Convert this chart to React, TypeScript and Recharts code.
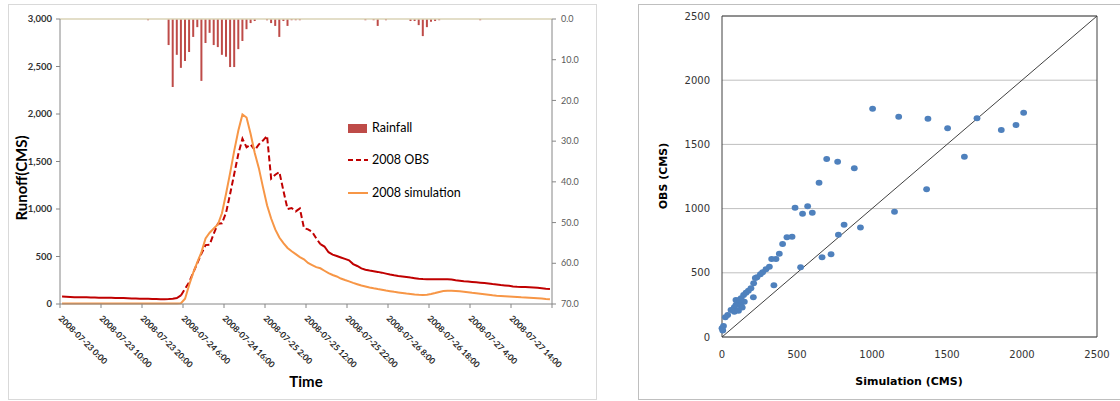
import React from 'react';
import {
  ComposedChart, Line, Bar, XAxis, YAxis, ReferenceLine,
  ScatterChart, Scatter, CartesianGrid,
} from 'recharts';

// Hydrograph: hourly values, 2008-07-23 0:00 .. 2008-07-27 23:00
const TIME_TICKS = [0, 10, 20, 30, 40, 50, 60, 70, 80, 90, 100, 110, 120];
const TIME_LABELS = [
  '2008-07-23 0:00', '2008-07-23 10:00', '2008-07-23 20:00', '2008-07-24 6:00',
  '2008-07-24 16:00', '2008-07-25 2:00', '2008-07-25 12:00', '2008-07-25 22:00',
  '2008-07-26 8:00', '2008-07-26 18:00', '2008-07-27 4:00', '2008-07-27 14:00',
];
const RUNOFF_TICKS = [0, 500, 1000, 1500, 2000, 2500, 3000];
const RAIN_TICKS = [0, 10, 20, 30, 40, 50, 60, 70];

const RAIN = [
  0, 0, 0, 0, 0, 0, 0, 0, 0, 0,
  0, 0, 0, 0, 0, 0, 0, 0, 0, 0,
  0, 0.3, 0, 0, 0, 0, 6.4, 16.7, 8.8, 12.0,
  10.3, 8.1, 4.4, 2.0, 15.2, 5.9, 3.4, 6.4, 6.9, 8.8,
  9.3, 11.8, 11.8, 7.4, 5.4, 2.5, 1.0, 0.5, 0, 0,
  0.3, 1.0, 1.7, 4.4, 0.5, 1.7, 0.3, 0.3, 0.3, 0,
  0, 0, 0, 0, 0, 0, 0, 0, 0, 0,
  0, 0, 0, 0, 0.3, 0, 0.3, 1.7, 0, 0.3,
  0, 0, 0, 0, 0, 0.5, 0.5, 1.5, 4.2, 2.0,
  0.7, 0.5, 0.3, 0, 0, 0, 0, 0, 0, 0,
  0, 0, 0.3, 0, 0, 0, 0, 0, 0, 0,
  0, 0, 0, 0, 0, 0, 0, 0, 0, 0,
];

const OBS = [
  78, 76, 74, 72, 71, 70, 70, 69, 68, 67,
  66, 65, 65, 64, 63, 62, 60, 58, 57, 56,
  55, 54, 53, 52, 50, 50, 52, 56, 62, 90,
  160, 230, 330, 430, 530, 620, 625, 740, 845, 850,
  960, 1160, 1370, 1580, 1740, 1650, 1680, 1620, 1680, 1720,
  1770, 1320, 1360, 1390, 1190, 1000, 1010, 975, 1005, 800,
  785, 760, 690, 630, 605, 545, 520, 505, 490, 475,
  460, 420, 400, 375, 360, 352, 345, 338, 330, 320,
  310, 302, 295, 290, 285, 278, 272, 266, 262, 260,
  260, 260, 260, 260, 260, 258, 250, 245, 240, 236,
  232, 228, 224, 220, 216, 210, 205, 200, 196, 192,
  185, 182, 180, 178, 176, 174, 170, 165, 160, 158,
];

const SIM = [
  5, 5, 5, 5, 5, 5, 5, 5, 5, 5,
  5, 5, 5, 5, 5, 5, 5, 5, 5, 5,
  5, 5, 5, 5, 5, 5, 5, 5, 5, 8,
  55, 200, 330, 440, 546, 690, 750, 795, 837, 955,
  1160, 1380, 1615, 1827, 1995, 1963, 1790, 1590, 1430, 1230,
  1040, 900, 785, 700, 640, 590, 555, 525, 494, 470,
  432, 410, 388, 376, 350, 325, 305, 290, 268, 252,
  238, 222, 208, 195, 184, 174, 165, 157, 150, 142,
  135, 128, 122, 116, 110, 105, 100, 97, 95, 98,
  105, 115, 127, 136, 140, 140, 138, 134, 130, 124,
  118, 113, 108, 103, 98, 92, 88, 85, 82, 79,
  76, 73, 70, 68, 66, 63, 60, 57, 53, 50,
];

// Scatter: simulated vs observed discharge (CMS)
const SCATTER_TICKS = [0, 500, 1000, 1500, 2000, 2500];
const SIM_Q = [
  1004, 1178, 1373, 1504, 1700, 1862, 1960, 2011, 1616, 698,
  771, 882, 647, 1364, 487, 537, 571, 602, 1150, 814,
  923, 776, 667, 727, 524, 346, 209, 467, 433, 404,
  382, 360, 331, 316, 293, 271, 256, 233, 222, 211,
  193, 176, 160, 144, 127, 116, 104, 93, 93, 127,
  149, 82, 82, 60, 38, 22, 0, 5, 10, 135,
  110, 120,
];
const OBS_Q = [
  1778, 1716, 1700, 1625, 1703, 1612, 1651, 1747, 1404, 1386,
  1365, 1314, 1202, 1150, 1007, 960, 1019, 968, 975, 874,
  852, 796, 622, 645, 543, 403, 309, 781, 776, 724,
  648, 607, 607, 548, 527, 504, 488, 465, 460, 418,
  379, 361, 345, 327, 301, 262, 275, 249, 288, 241,
  275, 231, 197, 210, 171, 153, 68, 50, 85, 230,
  205, 290,
];

const hourly = OBS.map((obs, i) => ({
  t: i + 0.5,
  rain: RAIN[i],
  sim: SIM[i],
  obsSolid: i <= 29 || i >= 63 ? obs : null,
  obsDash: i >= 29 && i <= 63 ? obs : null,
}));

const points = SIM_Q.map((x, i) => ({ x, y: OBS_Q[i] }));

const RAIN_COLOR = '#BE4B48';
const OBS_COLOR = '#C00000';
const SIM_COLOR = '#F79646';

function TimeTick(props: any) {
  const { x, y, payload } = props;
  const label = TIME_LABELS[TIME_TICKS.indexOf(payload.value)];
  if (!label) return null;
  const tx = x - 2;
  const ty = y + 9;
  return (
    <text x={tx} y={ty} transform={`rotate(45 ${tx} ${ty})`} fontFamily="Lato" fontWeight={700}
      fontSize={8.5} fill="#262626">
      {label}
    </text>
  );
}

function Dot(props: any) {
  const { cx, cy } = props;
  return <ellipse cx={cx} cy={cy} rx={3.4} ry={3} fill="#4F81BD" />;
}

const abs = (s: React.CSSProperties): React.CSSProperties => ({ position: 'absolute', ...s });

export default function App() {
  return (
    <div style={abs({ left: 0, top: 0, width: 1120, height: 401, background: '#fff', overflow: 'hidden' })}>
      {/* panel frames */}
      <div style={abs({ left: 8, top: 4, width: 589, height: 396, border: '1px solid #D9D9D9', boxSizing: 'border-box' })} />
      <div style={abs({ left: 638, top: 4, width: 490, height: 396, border: '1px solid #BFBFBF', boxSizing: 'border-box' })} />

      {/* hydrograph */}
      <div style={abs({ left: 0, top: 0 })}>
        <ComposedChart width={600} height={401} data={hourly}
          margin={{ top: 19, right: 8, left: 20, bottom: 0 }}>
          <XAxis dataKey="t" type="number" domain={[0, 120]} ticks={TIME_TICKS} interval={0}
            height={97} stroke="#868686" tickSize={4} tick={<TimeTick />} />
          <YAxis yAxisId="q" domain={[0, 3000]} ticks={RUNOFF_TICKS} width={40}
            stroke="#868686" tickSize={4} tickMargin={4}
            tickFormatter={(v: number) => v.toLocaleString('en-US')}
            tick={{ fontFamily: 'Lato', fontWeight: 700, fontSize: 9.5, fill: '#333' }} />
          <YAxis yAxisId="rain" orientation="right" reversed domain={[0, 70]} ticks={RAIN_TICKS}
            width={40} stroke="#868686" tickSize={4} tickMargin={5}
            tickFormatter={(v: number) => v.toFixed(1)}
            tick={{ fontFamily: 'Lato', fontSize: 9, fill: '#595959' }} />
          <ReferenceLine yAxisId="rain" y={0} stroke="#DAD3B6" strokeWidth={1.5} />
          <Bar yAxisId="rain" dataKey="rain" fill={RAIN_COLOR} barSize={2} isAnimationActive={false} />
          <Line yAxisId="q" dataKey="obsSolid" stroke={OBS_COLOR} strokeWidth={2} dot={false}
            isAnimationActive={false} />
          <Line yAxisId="q" dataKey="obsDash" stroke={OBS_COLOR} strokeWidth={2} strokeDasharray="6 3"
            dot={false} isAnimationActive={false} />
          <Line yAxisId="q" dataKey="sim" stroke={SIM_COLOR} strokeWidth={2} dot={false}
            isAnimationActive={false} />
        </ComposedChart>
      </div>

      {/* hydrograph legend */}
      <div style={abs({ left: 348, top: 118, fontFamily: 'Lato', fontSize: 12.5, color: '#000', lineHeight: '20px' })}>
        <div style={{ display: 'flex', alignItems: 'center', height: 20 }}>
          <span style={{ width: 19, height: 9, background: RAIN_COLOR, marginRight: 5 }} />Rainfall
        </div>
        <div style={{ display: 'flex', alignItems: 'center', height: 20, marginTop: 12 }}>
          <svg width={20} height={4} style={{ marginRight: 4 }}>
            <line x1={0} y1={2} x2={20} y2={2} stroke={OBS_COLOR} strokeWidth={2} strokeDasharray="5 3" />
          </svg>2008 OBS
        </div>
        <div style={{ display: 'flex', alignItems: 'center', height: 20, marginTop: 13 }}>
          <svg width={20} height={4} style={{ marginRight: 4 }}>
            <line x1={0} y1={2} x2={20} y2={2} stroke={SIM_COLOR} strokeWidth={2} />
          </svg>2008 simulation
        </div>
      </div>

      <div style={abs({ left: 21, top: 178, transform: 'translate(-50%, -50%) rotate(-90deg)', fontFamily: 'Lato', fontWeight: 700, fontSize: 15, whiteSpace: 'nowrap' })}>
        Runoff(CMS)
      </div>
      <div style={abs({ left: 306, top: 381, transform: 'translate(-50%, -50%)', fontFamily: 'Lato', fontWeight: 700, fontSize: 15 })}>
        Time
      </div>

      {/* scatter */}
      <div style={abs({ left: 640, top: 0 })}>
        <ScatterChart width={480} height={401} margin={{ top: 16, right: 23, left: 32, bottom: 34 }}>
          <CartesianGrid vertical={false} stroke="#BFBFBF" horizontalValues={SCATTER_TICKS} />
          <XAxis dataKey="x" type="number" domain={[0, 2500]} ticks={SCATTER_TICKS} interval={0}
            height={30} stroke="#404040" tickLine={false} tickSize={0} tickMargin={14}
            tick={{ fontFamily: 'DejaVu Sans', fontSize: 10, fill: '#333' }} />
          <YAxis dataKey="y" type="number" domain={[0, 2500]} ticks={SCATTER_TICKS} interval={0}
            width={50} stroke="#404040" tickLine={false} tickSize={0} tickMargin={12}
            tick={{ fontFamily: 'DejaVu Sans', fontSize: 10, fill: '#333' }} />
          <ReferenceLine y={2500} stroke="#404040" />
          <ReferenceLine x={2500} stroke="#404040" />
          <ReferenceLine segment={[{ x: 0, y: 0 }, { x: 2500, y: 2500 }]} stroke="#404040" />
          <Scatter data={points} shape={<Dot />} isAnimationActive={false} />
        </ScatterChart>
      </div>

      <div style={abs({ left: 663, top: 176, transform: 'translate(-50%, -50%) rotate(-90deg)', fontFamily: 'DejaVu Sans', fontWeight: 700, fontSize: 11, whiteSpace: 'nowrap' })}>
        OBS (CMS)
      </div>
      <div style={abs({ left: 909, top: 381, transform: 'translate(-50%, -50%)', fontFamily: 'DejaVu Sans', fontWeight: 700, fontSize: 11, whiteSpace: 'nowrap' })}>
        Simulation (CMS)
      </div>
    </div>
  );
}
